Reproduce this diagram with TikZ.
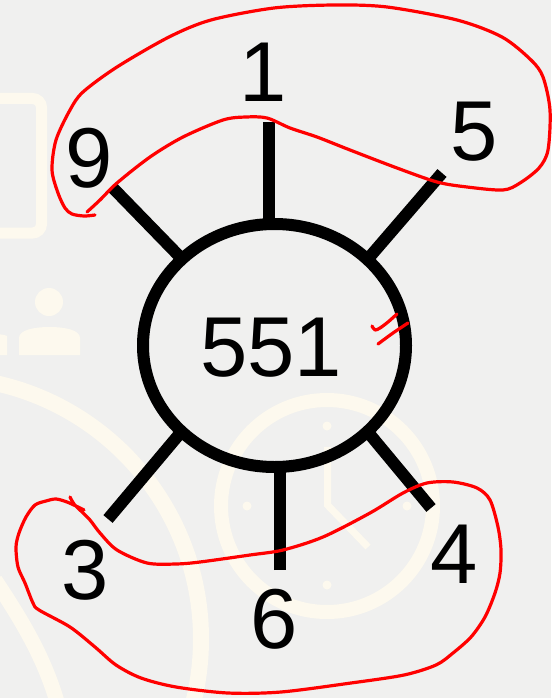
\documentclass[tikz,border=0pt]{standalone}
\usepackage{fontspec}
\setmainfont{Liberation Sans}
\usetikzlibrary{shapes.geometric}
\definecolor{bgc}{HTML}{F0F0EF}
\definecolor{cream}{HTML}{FDF9EE}
\definecolor{pen}{HTML}{FF0000}
\begin{document}
\begin{tikzpicture}[x=1pt,y=-1pt,
  lbl/.style={font=\fontsize{85}{85}\selectfont, inner sep=0pt, anchor=center},
  spoke/.style={line width=12pt, black},
  deco/.style={cream},
  ink/.style={pen, line width=3.2pt, line cap=round, line join=round}]
\fill[bgc] (0,0) rectangle (551,698);
\useasboundingbox (0,0) rectangle (551,698);
% faint background decorations
\begin{scope}
\clip (0,0) rectangle (551,698);
\draw[deco, line width=11pt, rounded corners=9pt] (-30,98.5) rectangle (41.5,233);
\fill[deco] (49,302) circle (14pt);
\fill[deco] (19,355) -- (19,338) .. controls (19,330) and (34,327) .. (49.5,327) .. controls (65,327) and (80,330) .. (80,338) -- (80,355) -- cycle;
\fill[deco] (-20,355) -- (-20,340) .. controls (-10,334) and (0,333) .. (7,336) -- (7,355) -- cycle;
\draw[deco, line width=16pt] (-61,639) circle (262pt);
\draw[deco, line width=15pt] (-5,580) .. controls (25,625) and (45,660) .. (58,705);
\draw[deco, line width=14pt] (327,506) circle (106pt);
\foreach \p in {(327,426),(247,506),(407,506),(327,585)} \fill[deco] \p circle (4.5pt);
\draw[deco, line width=7pt] (327.5,447) -- (327.5,505) -- (368,547);
\end{scope}
% main figure
\node[ellipse, draw, line width=12pt, minimum width=263pt, minimum height=243pt, inner sep=0pt] (c) at (274.5,345.5) {};
\node[lbl] (n551) at (271,347.5) {551};
\coordinate (t1) at (269,122); \coordinate (t1i) at (269,225);
\coordinate (t5) at (442,173); \coordinate (t5i) at (367,260);
\coordinate (t9) at (112,187); \coordinate (t9i) at (183,260);
\coordinate (t3) at (108,519); \coordinate (t3i) at (182,431);
\coordinate (t6) at (280,570); \coordinate (t6i) at (280,466);
\coordinate (t4) at (431,508); \coordinate (t4i) at (367,431);
\foreach \a in {1,5,9,3,6,4} \draw[spoke] (t\a) -- (t\a i);
\node[lbl] (l1) at (263,72) {1};
\node[lbl] (l5) at (474,132) {5};
\node[lbl] (l9) at (89,158) {9};
\node[lbl] (l3) at (85,570) {3};
\node[lbl] (l6) at (274,619) {6};
\node[lbl] (l4) at (454,554) {4};
% red annotations
\draw[ink] plot[smooth, tension=0.5] coordinates {
 (87,212) (100,200) (117,183) (150,157) (183,137) (223,120) (246,117) (267,118)
 (290,128) (317,137) (350,150) (397,168) (437,182) (467,187) (503,190) (520,183)
 (539,168) (548,150) (550,110) (543,77) (531,60) (502,37) (457,20) (387,7) (334,5)
 (274,8) (211,20) (169,37) (117,67) (83,92) (70,110) (56,140) (52,170) (58,193)
 (65,208) (72,214) (84,216) (95,215)};
\draw[ink] plot[smooth, tension=0.5] coordinates {
 (70,497) (74,504) (80,510) (90,520) (100,533) (117,550) (147,563) (176,564) (200,562)
 (250,555) (283,550) (323,537) (370,513) (403,493) (427,483) (453,482) (477,488)
 (490,500) (498,527) (501,550) (500,573) (495,593) (485,617) (471,637) (453,653)
 (436,665) (404,675) (351,683) (281,692) (228,693) (176,687) (141,678) (116,665)
 (95,647) (70,627) (39,610) (33,603) (25,583) (18,567) (16,547) (19,533) (26,517)
 (35,505) (46,501) (56,499) (67,502) (78,507) (84,510)};
\draw[ink] plot[smooth, tension=0.5] coordinates {(372,326) (375,330) (380,328) (388,322) (397,314)};
\draw[ink] plot[smooth, tension=0.5] coordinates {(378,344) (393,333) (408,323)};
\end{tikzpicture}
\end{document}
